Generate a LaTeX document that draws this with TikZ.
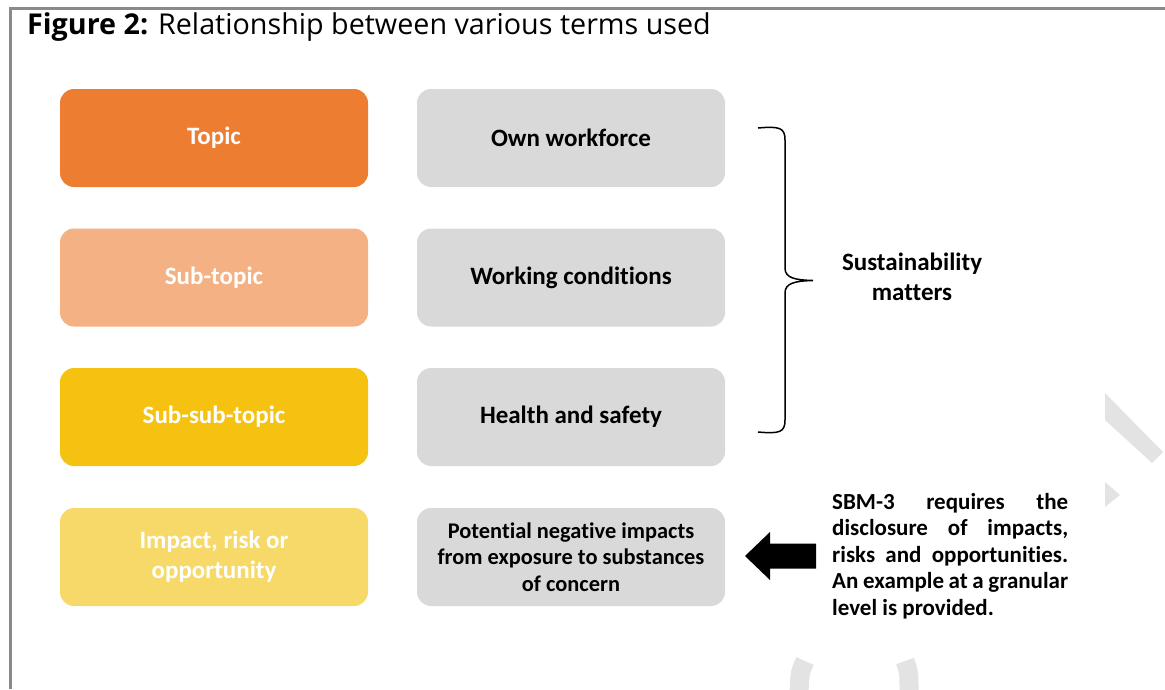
\documentclass[tikz,border=0pt]{standalone}
\usepackage{fontspec}
\setmainfont{Carlito}[Ligatures=NoCommon]
\newfontfamily\titlefont{Open Sans}
\definecolor{topicorange}{HTML}{ED7D31}
\definecolor{subpeach}{HTML}{F4B183}
\definecolor{subsubgold}{HTML}{F5C211}
\definecolor{iropale}{HTML}{F7D96A}
\definecolor{boxgrey}{HTML}{D9D9D9}
\definecolor{framegrey}{HTML}{8A8A8A}
\definecolor{markgrey}{HTML}{E3E3E3}

\begin{document}
\begin{tikzpicture}[x=1pt, y=-1pt,
block/.style = {rectangle, rounded corners=14pt, minimum width=308pt, minimum height=98pt,
  inner sep=0pt, align=center, font=\bfseries\fontsize{25}{30}\selectfont},
term/.style = {block, text=white},
example/.style = {block, fill=boxgrey, text=black}]
\useasboundingbox (0,0) rectangle (1165,689);
% frame and watermark
\draw [framegrey, line width=3pt] (10,689) -- (10,8) -- (1165,8);
\fill [markgrey] (1105,393) -- (1163,452) -- (1152,463) -- (1105,420) -- cycle;
\fill [markgrey] (1105,482) -- (1120,495) -- (1105,507) -- cycle;
\draw [markgrey, line width=19pt] (805,661) .. controls (800,672) .. (799,692);
\draw [markgrey, line width=19pt] (905,661) .. controls (909,672) .. (909,692);
% title
\node [anchor=west, inner sep=0pt] at (27,27) (title)
  {\titlefont\fontsize{28.7}{32}\selectfont\textbf{Figure 2:} Relationship between various terms used};
% terms
\node[term, fill=topicorange] at (214,138) (topic) {Topic};
\node[term, fill=subpeach] at (214,277.5) (sub) {Sub-topic};
\node[term, fill=subsubgold] at (214,417) (subsub) {Sub-sub-topic};
\node[term, fill=iropale] at (214,557) (iro) {Impact, risk or\\opportunity};
% examples
\node[example] at (571,138) (own) {Own workforce};
\node[example] at (571,277.5) (work) {Working conditions};
\node[example] at (571,417) (health) {Health and safety};
\node[example, font=\bfseries\fontsize{22.4}{26.5}\selectfont] at (571,557) (pot)
  {Potential negative impacts\\from exposure to substances\\of concern};
% brace
\draw [line width=1.5pt] (758,128) .. controls (780,126) and (785,128) .. (785,140)
  -- (785,268) .. controls (785,278) and (795,280) .. (813,280.5)
  .. controls (795,281) and (785,283) .. (785,293)
  -- (785,420) .. controls (785,432) and (780,434) .. (758,432);
\node [font=\bfseries\fontsize{25}{30}\selectfont, align=center] at (912,277) (sm)
  {Sustainability\\matters};
% SBM-3 note
\node [font=\bfseries\fontsize{23}{26.5}\selectfont, text width=236pt, align=justify,
  inner sep=0pt, anchor=north west] at (832,493) (note)
  {\hyphenpenalty=10000 SBM-3 requires the\linebreak disclosure of impacts,\linebreak
   risks and opportunities.\linebreak An example at a granular\linebreak level is provided.};
\fill (745,556) -- (770,532) -- (770,543.5) -- (816,543.5) -- (816,568.5)
  -- (770,568.5) -- (770,580) -- cycle;
\end{tikzpicture}
\end{document}
